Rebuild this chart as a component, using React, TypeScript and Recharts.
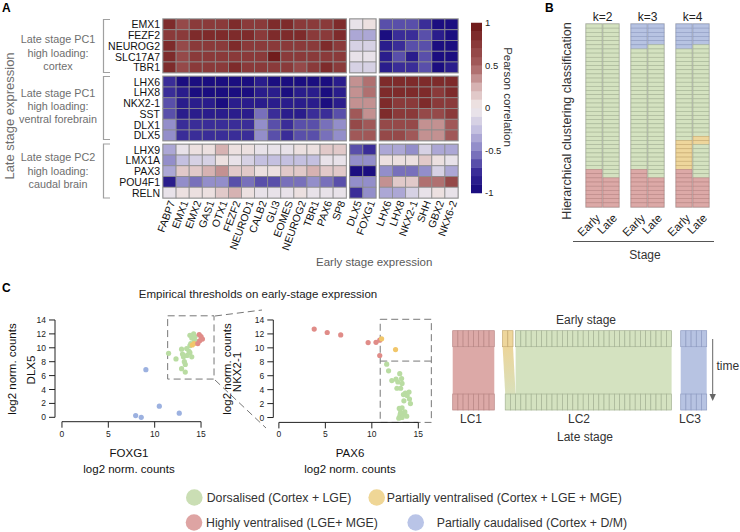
import React from "react";
import { ScatterChart, Scatter, XAxis, YAxis, ReferenceArea, ReferenceLine } from "recharts";

const FONT = "'Liberation Sans', Arial, Helvetica, sans-serif";

// ---------- A: heatmap ----------
const lateCortexGenes = ["EMX1", "FEZF2", "NEUROG2", "SLC17A7", "TBR1"];
const lateVentralGenes = ["LHX6", "LHX8", "NKX2-1", "SST", "DLX1", "DLX5"];
const lateCaudalGenes = ["LHX9", "LMX1A", "PAX3", "POU4F1", "RELN"];
const earlyCortexGenes = ["FABP7", "EMX1", "EMX2", "GAS1", "OTX1", "FEZF2", "NEUROD1", "CALB2", "GLI3", "EOMES", "NEUROG2", "TBR1", "PAX6", "SP8"];
const earlyTelGenes = ["DLX5", "FOXG1"];
const earlyVentralGenes = ["LHX6", "LHX8", "NKX2-1", "SHH", "GBX2", "NKX6-2"];

// rows: late genes, columns: early genes (14 + 2 + 6)
const cortexCorr = [
  [0.85, 0.6, 0.75, 0.7, 0.72, 0.8, 0.75, 0.72, 0.8, 0.8, 0.75, 0.72, 0.75, 0.8, -0.05, 0.05, -0.7, -0.68, -0.7, -0.72, -0.9, -0.9],
  [0.75, 0.7, 0.8, 0.8, 0.9, 0.88, 0.8, 0.78, 0.82, 0.8, 0.8, 0.75, 0.75, 0.8, -0.35, -0.35, -0.92, -0.78, -0.78, -0.7, -0.82, -0.9],
  [0.8, 0.62, 0.75, 0.72, 0.75, 0.8, 0.78, 0.75, 0.75, 0.78, 0.72, 0.7, 0.8, 0.78, -0.2, -0.2, -0.8, -0.72, -0.7, -0.7, -0.9, -0.9],
  [0.82, 0.65, 0.78, 0.7, 0.75, 0.78, 0.72, 0.7, 0.92, 0.78, 0.72, 0.7, 0.75, 0.78, -0.08, -0.1, -0.8, -0.7, -0.82, -0.7, -0.9, -0.9],
  [0.85, 0.6, 0.72, 0.7, 0.75, 0.8, 0.75, 0.75, 0.78, 0.72, 0.62, 0.72, 0.82, 0.72, -0.18, -0.18, -0.8, -0.72, -0.72, -0.7, -0.9, -0.85],
];
const ventralCorr = [
  [-0.72, -0.9, -0.95, -0.95, -0.97, -0.95, -0.95, -0.88, -0.92, -0.97, -0.97, -0.95, -0.95, -0.88, 0.4, 0.45, 0.9, 0.9, 0.9, 0.8, 0.82, 0.9],
  [-0.72, -0.88, -0.9, -0.9, -0.95, -0.9, -0.9, -0.82, -0.88, -0.9, -0.88, -0.88, -0.97, -0.88, 0.3, 0.42, 0.9, 0.8, 0.8, 0.8, 0.75, 0.8],
  [-0.65, -0.82, -0.88, -0.85, -0.9, -0.88, -0.85, -0.8, -0.85, -0.82, -0.85, -0.85, -0.97, -0.8, 0.3, 0.4, 0.8, 0.78, 0.78, 0.8, 0.72, 0.78],
  [-0.62, -0.8, -0.85, -0.82, -0.82, -0.85, -0.82, -0.6, -0.78, -0.8, -0.8, -0.78, -0.75, -0.7, 0.5, 0.4, 0.82, 0.72, 0.72, 0.62, 0.68, 0.72],
  [-0.42, -0.72, -0.75, -0.72, -0.78, -0.78, -0.78, -0.48, -0.62, -0.72, -0.7, -0.68, -0.6, -0.48, 0.6, 0.52, 0.62, 0.62, 0.6, 0.35, 0.38, 0.5],
  [-0.45, -0.72, -0.72, -0.72, -0.78, -0.78, -0.78, -0.5, -0.7, -0.72, -0.7, -0.7, -0.6, -0.5, 0.52, 0.5, 0.6, 0.6, 0.58, 0.38, 0.4, 0.5],
];
const caudalCorr = [
  [-0.3, -0.05, 0.05, 0.05, 0.25, 0.05, 0.05, -0.05, -0.05, -0.05, 0.05, 0.05, 0.15, 0.15, -0.7, -0.72, -0.3, -0.3, -0.42, -0.12, -0.3, -0.3],
  [-0.5, -0.25, -0.15, -0.15, 0.05, -0.05, -0.15, -0.25, -0.25, -0.25, -0.25, -0.25, -0.05, -0.05, -0.45, -0.45, 0.05, 0.05, 0.05, 0.15, 0.05, -0.05],
  [-0.3, 0.2, 0.2, 0.28, 0.3, 0.2, 0.2, 0.05, 0.05, 0.15, 0.15, 0.25, 0.15, 0.15, -0.92, -0.92, -0.5, -0.6, -0.6, -0.45, -0.15, -0.35],
  [-0.82, -0.5, -0.55, -0.5, -0.5, -0.7, -0.55, -0.68, -0.68, -0.55, -0.55, -0.5, -0.55, -0.65, -0.4, -0.48, 0.3, 0.15, 0.2, 0.45, 0.45, 0.65],
  [-0.05, 0.05, 0.05, 0.05, 0.15, 0.28, 0.05, -0.05, -0.05, -0.05, 0.05, -0.05, -0.05, -0.05, -0.72, -0.48, -0.3, -0.3, -0.15, -0.05, 0.05, -0.05],
];
const colorbarTicks = [-1, -0.5, 0, 0.5, 1];

// ---------- B: cluster membership (runs from top) ----------
const kLabels = ["k=2", "k=3", "k=4"];
const stageLabels = ["Early", "Late"];
const k2Early: [string, number][] = [["dors", 35], ["high", 9]];
const k2Late: [string, number][] = [["dors", 37], ["high", 7]];
const k3Early: [string, number][] = [["caud", 6], ["dors", 29], ["high", 9]];
const k3Late: [string, number][] = [["caud", 5], ["dors", 32], ["high", 7]];
const k4Early: [string, number][] = [["caud", 6], ["dors", 22], ["part", 7], ["high", 9]];
const k4Late: [string, number][] = [["caud", 5], ["dors", 22], ["part", 2], ["dors", 8], ["high", 7]];

// ---------- C: scatter (log2 norm. counts) ----------
const foxg1Dlx5Dorsalised: [number, number][] = [
  [11.5, 9.2], [12.3, 8.4], [12.9, 9.8], [13.0, 9.1], [13.1, 8.7], [13.2, 8.0], [13.3, 7.6], [12.9, 7.0], [13.3, 6.5],
  [13.8, 10.3], [13.8, 9.3], [14.0, 8.7], [13.5, 8.9], [13.7, 9.5], [13.45, 9.9], [13.8, 11.8], [14.0, 11.4], [14.2, 12.0],
  [14.35, 11.6], [14.3, 11.0], [14.5, 10.9], [13.9, 10.6],
];
const foxg1Dlx5Partial: [number, number][] = [[14.05, 10.4], [14.25, 10.6]];
const foxg1Dlx5High: [number, number][] = [[14.8, 11.9], [15.0, 11.6], [15.15, 11.25], [14.65, 10.6], [14.85, 11.0]];
const foxg1Dlx5Caudal: [number, number][] = [[9.05, 6.85], [10.5, 1.6], [7.95, 0.25], [8.55, 0.0], [12.65, 0.6]];

const pax6Nkx21High: [number, number][] = [[3.8, 12.7], [5.2, 12.2], [6.65, 11.85], [9.6, 10.75], [10.45, 10.8], [10.85, 11.1], [10.85, 8.9]];
const pax6Nkx21Partial: [number, number][] = [[11.05, 11.3], [12.55, 9.75]];
const pax6Nkx21Dorsalised: [number, number][] = [
  [11.6, 7.65], [11.8, 6.7], [12.15, 5.3], [12.6, 5.5], [13.0, 6.3], [13.2, 5.6], [12.8, 5.1], [12.7, 4.2], [13.1, 4.2],
  [13.25, 4.9], [13.6, 3.5], [13.4, 3.3], [14.0, 3.65], [13.8, 3.15], [13.45, 2.4], [14.05, 2.65], [14.15, 2.0], [12.95, 1.3],
  [13.25, 1.4], [13.05, 0.45], [13.4, 0.5], [13.75, 0.2], [13.0, 0.1], [13.25, 0.0], [12.9, -0.1], [13.55, 0.8], [13.1, 0.75],
];

// ---------- C: lineage diagram ----------
const lcLabels = ["LC1", "LC2", "LC3"];
const lcClasses = ["high", "dors", "caud"];
const lcLateCounts = [8, 32, 5];
const lc2EarlyRuns: [string, number][] = [["part", 2], ["dors", 30]];

const CLASS_FILL: Record<string, string> = { dors: "#d4e2c0", part: "#eed69c", high: "#dca9a7", caud: "#b7c3e2" };
const CLASS_LINE: Record<string, string> = { dors: "#a5b394", part: "#c6aa70", high: "#b98684", caud: "#8e9bc2" };
const DOT: Record<string, string> = { dors: "#b9dca2", part: "#f1c66a", high: "#e08c88", caud: "#9cb1e0" };

const expand = (runs: [string, number][]) => runs.flatMap(([c, n]) => Array(n).fill(c) as string[]);
const toPts = (arr: [number, number][]) => arr.map(([x, y]) => ({ x, y }));

// ---------- colour scale ----------
const stops: [number, number[]][] = [
  [-1, [19, 6, 122]], [-0.75, [58, 45, 152]], [-0.5, [135, 129, 196]], [-0.25, [196, 192, 224]],
  [0, [241, 235, 235]], [0.25, [214, 178, 178]], [0.5, [166, 95, 95]], [0.75, [138, 58, 58]], [1, [107, 20, 20]],
];
const interp = (v: number) => {
  for (let i = 0; i < stops.length - 1; i++) {
    const [a, ca] = stops[i];
    const [b, cb] = stops[i + 1];
    if (v <= b) {
      const t = (v - a) / (b - a);
      const c = ca.map((x, j) => Math.round(x + (cb[j] - x) * t));
      return `rgb(${c[0]},${c[1]},${c[2]})`;
    }
  }
  return "rgb(107,20,20)";
};
const corrColor = (v: number) => {
  const bin = Math.min(19, Math.max(0, Math.floor((v + 1) / 0.1)));
  return interp(-1 + (bin + 0.5) * 0.1);
};

// ---------- heatmap layout ----------
const GX = 0.27;
const GY = 0.33;
const colStarts = [0, 14 + GX, 16 + 2 * GX];
const rowStarts = [0, 5 + GY, 11 + 2 * GY];
const X_MAX = 22 + 2 * GX;
const Y_MAX = 16 + 2 * GY;
const HM_W = 295;
const HM_H = 179;
const cellW = HM_W / X_MAX;
const cellH = HM_H / Y_MAX;

const colBlocks = [earlyCortexGenes, earlyTelGenes, earlyVentralGenes];
const rowBlocks = [lateCortexGenes, lateVentralGenes, lateCaudalGenes];
const corrBlocks = [cortexCorr, ventralCorr, caudalCorr];

const colPos: number[] = [];
const colNames: string[] = [];
colBlocks.forEach((genes, b) => genes.forEach((g, i) => { colPos.push(colStarts[b] + i + 0.5); colNames.push(g); }));
const rowPos: number[] = [];
const rowNames: string[] = [];
rowBlocks.forEach((genes, b) => genes.forEach((g, i) => { rowPos.push(rowStarts[b] + i + 0.5); rowNames.push(g); }));

const heatCells = corrBlocks.flatMap((mat, rb) =>
  mat.flatMap((row, r) => row.map((v, c) => ({ x: colPos[c], y: rowStarts[rb] + r + 0.5, v })))
);
const nameAt = (pos: number[], names: string[], v: number) => {
  const i = pos.findIndex((p) => Math.abs(p - v) < 0.01);
  return i >= 0 ? names[i] : "";
};

const ColTick = (p: any) => {
  const x = p.x + 2;
  const y = p.y;
  return (
    <text x={x} y={y} transform={`rotate(-70, ${x}, ${y})`} textAnchor="end" dominantBaseline="central" fontSize={10.5} fill="#111">
      {nameAt(colPos, colNames, p.payload.value)}
    </text>
  );
};
const RowTick = (p: any) => (
  <text x={p.x} y={p.y} textAnchor="end" dominantBaseline="central" fontSize={10.5} fill="#111">
    {nameAt(rowPos, rowNames, p.payload.value)}
  </text>
);

const Heatmap = () => (
  <ScatterChart width={470} height={270} margin={{ top: 19, left: 103, right: 12, bottom: 12 }}>
    <XAxis type="number" dataKey="x" domain={[0, X_MAX]} ticks={colPos} interval={0} tick={ColTick} tickLine={false} axisLine={false} tickSize={0} tickMargin={3} height={60} />
    <YAxis type="number" dataKey="y" domain={[0, Y_MAX]} reversed ticks={rowPos} interval={0} tick={RowTick} tickLine={false} axisLine={false} tickSize={0} tickMargin={3} width={60} />
    <Scatter
      data={heatCells}
      isAnimationActive={false}
      shape={(p: any) => (
        <rect x={p.cx - cellW / 2} y={p.cy - cellH / 2} width={cellW} height={cellH} fill={corrColor(p.payload.v)} stroke="#8c8c8c" strokeWidth={0.8} />
      )}
    />
    {rowStarts.map((ry, rb) =>
      colStarts.map((cx, cb) => (
        <ReferenceArea
          key={`${rb}-${cb}`}
          x1={cx}
          x2={cx + colBlocks[cb].length}
          y1={ry}
          y2={ry + rowBlocks[rb].length}
          fill="none"
          stroke="#b4b4b4"
          strokeWidth={1.6}
          ifOverflow="visible"
        />
      ))
    )}
  </ScatterChart>
);

const colorbarBins = Array.from({ length: 20 }, (_, i) => ({ x: 0.5, y: -0.95 + i * 0.1 }));
const Colorbar = () => (
  <ScatterChart width={60} height={190} margin={{ top: 8, left: 11, right: 8, bottom: 12 }}>
    <XAxis type="number" dataKey="x" domain={[0, 1]} hide />
    <YAxis type="number" dataKey="y" orientation="right" domain={[-1, 1]} ticks={colorbarTicks} interval={0} tickLine={false} axisLine={false} tickSize={0} tickMargin={3} width={30} tick={{ fontSize: 9.5, fill: "#222" }} />
    <Scatter
      data={colorbarBins}
      isAnimationActive={false}
      shape={(p: any) => <rect x={p.cx - 5.5} y={p.cy - 4.5} width={11} height={9} fill={corrColor(p.payload.y)} />}
    />
  </ScatterChart>
);

// ---------- B ----------
const bColumns = [k2Early, k2Late, k3Early, k3Late, k4Early, k4Late];
const bCenters = [8, 25, 53, 70, 98, 115];
const B_ROWS = 44;
const bRowH = 183 / B_ROWS;
const bCells = bColumns.flatMap((runs, ci) => expand(runs).map((cls, r) => ({ x: bCenters[ci], y: r + 0.5, cls })));

const StageTick = (p: any) => {
  const i = bCenters.findIndex((c) => Math.abs(c - p.payload.value) < 0.01);
  const x = p.x + 4;
  const y = p.y;
  return (
    <text x={x} y={y} transform={`rotate(-45, ${x}, ${y})`} textAnchor="end" dominantBaseline="central" fontSize={11.5} fill="#222">
      {stageLabels[i % 2]}
    </text>
  );
};

const PanelB = () => (
  <ScatterChart width={170} height={250} margin={{ top: 14, left: 26, right: 21, bottom: 23 }}>
    <XAxis type="number" dataKey="x" domain={[0, 123]} ticks={bCenters} interval={0} tick={StageTick} tickLine={false} axisLine={false} tickSize={0} tickMargin={9} height={30} />
    <YAxis type="number" dataKey="y" domain={[0, B_ROWS]} reversed hide />
    <Scatter
      data={bCells}
      isAnimationActive={false}
      shape={(p: any) => (
        <rect x={p.cx - 8} y={p.cy - bRowH / 2} width={16} height={bRowH} fill={CLASS_FILL[p.payload.cls]} stroke={CLASS_LINE[p.payload.cls]} strokeWidth={0.6} />
      )}
    />
    {bCenters.map((c) => (
      <ReferenceArea key={c} x1={c - 8} x2={c + 8} y1={0} y2={B_ROWS} fill="none" stroke="#bdbdbd" strokeWidth={1.3} ifOverflow="visible" />
    ))}
  </ScatterChart>
);

// ---------- C scatters ----------
const dot = (color: string) => (p: any) => <circle cx={p.cx} cy={p.cy} r={2.6} fill={color} />;
const axisTick = { fontSize: 8.5, fill: "#222" };

const ScatterLeft = () => (
  <ScatterChart width={240} height={180} margin={{ top: 25.8, left: 10, right: 33.4, bottom: 18.3 }}>
    <XAxis type="number" dataKey="x" domain={[-0.75, 15.6]} ticks={[0, 5, 10, 15]} interval={0} axisLine={false} tickLine={{ stroke: "#222" }} tickSize={6} tickMargin={3} height={30} tick={axisTick} />
    <YAxis type="number" dataKey="y" domain={[-0.63, 14.6]} ticks={[0, 2, 4, 6, 8, 10, 12, 14]} interval={0} axisLine={false} tickLine={{ stroke: "#222" }} tickSize={6} tickMargin={3} width={45} tick={axisTick} />
    <ReferenceLine segment={[{ x: 0, y: -0.63 }, { x: 15, y: -0.63 }]} stroke="#222" ifOverflow="visible" />
    <ReferenceLine segment={[{ x: -0.75, y: 0 }, { x: -0.75, y: 14 }]} stroke="#222" ifOverflow="visible" />
    <ReferenceArea x1={11.4} x2={16.4} y1={5.5} y2={14.6} fill="none" stroke="#777" strokeDasharray="7 4" ifOverflow="visible" />
    <Scatter data={toPts(foxg1Dlx5Caudal)} isAnimationActive={false} shape={dot(DOT.caud)} />
    <Scatter data={toPts(foxg1Dlx5Dorsalised)} isAnimationActive={false} shape={dot(DOT.dors)} />
    <Scatter data={toPts(foxg1Dlx5Partial)} isAnimationActive={false} shape={dot(DOT.part)} />
    <Scatter data={toPts(foxg1Dlx5High)} isAnimationActive={false} shape={dot(DOT.high)} />
  </ScatterChart>
);

const ScatterMid = () => (
  <ScatterChart width={250} height={180} margin={{ top: 25.8, left: 5.3, right: 56.1, bottom: 17.6 }}>
    <XAxis type="number" dataKey="x" domain={[-0.6, 15.6]} ticks={[0, 5, 10, 15]} interval={0} axisLine={false} tickLine={{ stroke: "#222" }} tickSize={6} tickMargin={3} height={30} tick={axisTick} />
    <YAxis type="number" dataKey="y" domain={[-0.7, 14.6]} ticks={[0, 2, 4, 6, 8, 10, 12, 14]} interval={0} axisLine={false} tickLine={{ stroke: "#222" }} tickSize={6} tickMargin={3} width={38} tick={axisTick} />
    <ReferenceLine segment={[{ x: 0, y: -0.7 }, { x: 15, y: -0.7 }]} stroke="#222" ifOverflow="visible" />
    <ReferenceLine segment={[{ x: -0.6, y: 0 }, { x: -0.6, y: 14 }]} stroke="#222" ifOverflow="visible" />
    <ReferenceArea x1={10.9} x2={16.4} y1={-0.7} y2={14.1} fill="none" stroke="#777" strokeDasharray="7 4" ifOverflow="visible" />
    <ReferenceLine segment={[{ x: 10.9, y: 8.1 }, { x: 16.4, y: 8.1 }]} stroke="#777" strokeDasharray="7 4" ifOverflow="visible" />
    <Scatter data={toPts(pax6Nkx21Dorsalised)} isAnimationActive={false} shape={dot(DOT.dors)} />
    <Scatter data={toPts(pax6Nkx21High)} isAnimationActive={false} shape={dot(DOT.high)} />
    <Scatter data={toPts(pax6Nkx21Partial)} isAnimationActive={false} shape={dot(DOT.part)} />
  </ScatterChart>
);

// ---------- C lineage diagram ----------
const LC_STARTS = [0, 10.1, 43.85];
const LC_MAX = 48.85;
const LC_UNIT = 254 / LC_MAX;
const lcCells: { x: number; y: number; cls: string }[] = [];
lcLateCounts.forEach((n, g) => {
  for (let i = 0; i < n; i++) lcCells.push({ x: LC_STARTS[g] + i + 0.5, y: 0, cls: lcClasses[g] });
});
[0, 2].forEach((g) => {
  for (let i = 0; i < lcLateCounts[g]; i++) lcCells.push({ x: LC_STARTS[g] + i + 0.5, y: 1, cls: lcClasses[g] });
});
expand(lc2EarlyRuns).forEach((cls, i) => lcCells.push({ x: LC_STARTS[1] + i + 0.5 - (cls === "part" ? 0.5 : 0), y: 1, cls }));

const STRIPE = 0.126;
const YellowFlow = (p: any) => {
  const { x, y, width, height } = p;
  const s = width * 0.2;
  return (
    <polygon points={`${x},${y} ${x + width - s},${y} ${x + width},${y + height} ${x + s},${y + height}`} fill="url(#yellowFlow)" />
  );
};

const Lineage = () => (
  <ScatterChart width={300} height={120} margin={{ top: 20.7, left: 12.7, right: 33.3, bottom: 20 }}>
    <defs>
      <linearGradient id="yellowFlow" x1="0" y1="0" x2="0" y2="1">
        <stop offset="0%" stopColor="#ecd59a" />
        <stop offset="100%" stopColor="#d9e0bb" />
      </linearGradient>
    </defs>
    <XAxis type="number" dataKey="x" domain={[0, LC_MAX]} hide />
    <YAxis type="number" dataKey="y" domain={[-STRIPE, 1 + STRIPE]} hide />
    <ReferenceArea x1={0} x2={lcLateCounts[0]} y1={STRIPE} y2={1 - STRIPE} fill={CLASS_FILL.high} fillOpacity={1} stroke="none" />
    <ReferenceArea x1={LC_STARTS[1] + 2} x2={LC_STARTS[1] + lcLateCounts[1]} y1={STRIPE} y2={1 - STRIPE} fill={CLASS_FILL.dors} fillOpacity={1} stroke="none" />
    <ReferenceArea x1={LC_STARTS[1] - 0.5} x2={LC_STARTS[1] + 2} y1={STRIPE} y2={1 - STRIPE} shape={YellowFlow} />
    <ReferenceArea x1={LC_STARTS[2]} x2={LC_STARTS[2] + lcLateCounts[2]} y1={STRIPE} y2={1 - STRIPE} fill={CLASS_FILL.caud} fillOpacity={1} stroke="none" />
    <Scatter
      data={lcCells}
      isAnimationActive={false}
      shape={(p: any) => (
        <rect x={p.cx - LC_UNIT / 2} y={p.cy - 8} width={LC_UNIT} height={16} fill={CLASS_FILL[p.payload.cls]} stroke={CLASS_LINE[p.payload.cls]} strokeWidth={0.7} />
      )}
    />
  </ScatterChart>
);

const at = (left: number, top: number, child: React.ReactNode) => (
  <div style={{ position: "absolute", left, top }}>{child}</div>
);

const gray = "#6e6e6e";

export default function App() {
  return (
    <div style={{ position: "absolute", left: 0, top: 0, width: 740, height: 532, background: "#fff", fontFamily: FONT, overflow: "hidden" }}>
      {at(0, 0, <Heatmap />)}
      {at(460, 15, <Colorbar />)}
      {at(560, 10, <PanelB />)}
      {at(0, 290, <ScatterLeft />)}
      {at(230, 290, <ScatterMid />)}
      {at(440, 310, <Lineage />)}
      <svg width={740} height={532} style={{ position: "absolute", left: 0, top: 0, pointerEvents: "none" }} fontFamily={FONT}>
        <text x={2} y={12} fontSize={12} fontWeight="bold">A</text>
        <text x={545} y={12} fontSize={12} fontWeight="bold">B</text>
        <text x={2} y={292} fontSize={12} fontWeight="bold">C</text>

        <text transform="translate(14,116) rotate(-90)" textAnchor="middle" fontSize={13} fill={gray}>Late stage expression</text>
        {[
          [["Late stage PC1", "high loading:", "cortex"], [43, 56.5, 69.5]],
          [["Late stage PC1", "high loading:", "ventral forebrain"], [97, 110, 122.5]],
          [["Late stage PC2", "high loading:", "caudal brain"], [161, 174.5, 187.5]],
        ].map(([lines, ys]: any, g) =>
          lines.map((t: string, i: number) => (
            <text key={`${g}-${i}`} x={58} y={ys[i]} textAnchor="middle" fontSize={10.8} fill={gray}>{t}</text>
          ))
        )}
        {[[19.5, 72.5], [76.5, 139.5], [144, 198]].map(([a, b], i) => (
          <path key={i} d={`M110,${a} H103.5 V${b} H110`} fill="none" stroke="#a0a0a0" strokeWidth={1.2} />
        ))}
        <text x={316} y={266} fontSize={11.5} fill="#5a5a5a">Early stage expression</text>
        <text x={508} y={97} transform="rotate(90, 508, 97)" textAnchor="middle" dominantBaseline="central" fontSize={11.5} fill="#333">Pearson correlation</text>

        {kLabels.map((k, i) => (
          <text key={k} x={602.5 + 45 * i} y={21} textAnchor="middle" fontSize={12} fill="#222">{k}</text>
        ))}
        <text transform="translate(571,121) rotate(-90)" textAnchor="middle" fontSize={12.5} fill="#333">Hierarchical clustering classification</text>
        <line x1={573} x2={714} y1={241.5} y2={241.5} stroke="#555" strokeWidth={1} />
        <text x={645} y={259} textAnchor="middle" fontSize={12} fill="#333">Stage</text>

        <text x={258} y={298} textAnchor="middle" fontSize={11.5} fill="#222">Empirical thresholds on early-stage expression</text>
        <line x1={215} y1={316} x2={262} y2={310} stroke="#777" strokeDasharray="7 4" />
        <line x1={215} y1={380} x2={266} y2={428} stroke="#777" strokeDasharray="7 4" />
        <text x={129} y={457} textAnchor="middle" fontSize={11.5} fill="#111">FOXG1</text>
        <text x={129} y={473} textAnchor="middle" fontSize={11.5} fill="#111">log2 norm. counts</text>
        <text transform="translate(35,370) rotate(-90)" textAnchor="middle" fontSize={11.5} fill="#111">DLX5</text>
        <text transform="translate(16,369) rotate(-90)" textAnchor="middle" fontSize={11.5} fill="#111">log2 norm. counts</text>
        <text x={350} y={457} textAnchor="middle" fontSize={11.5} fill="#111">PAX6</text>
        <text x={350} y={473} textAnchor="middle" fontSize={11.5} fill="#111">log2 norm. counts</text>
        <text transform="translate(241,372) rotate(-90)" textAnchor="middle" fontSize={11.5} fill="#111">NKX2-1</text>
        <text transform="translate(231,369) rotate(-90)" textAnchor="middle" fontSize={11.5} fill="#111">log2 norm. counts</text>

        <text x={586} y={324} textAnchor="middle" fontSize={12} fill="#333">Early stage</text>
        {lcLabels.map((l, i) => (
          <text key={l} x={[471, 579, 690][i]} y={423} textAnchor="middle" fontSize={12} fill="#333">{l}</text>
        ))}
        <text x={585} y={441} textAnchor="middle" fontSize={12} fill="#333">Late stage</text>
        <line x1={712.7} x2={712.7} y1={339} y2={395} stroke="#666" strokeWidth={1} />
        <polygon points="709.5,394 715.9,394 712.7,401" fill="#666" />
        <text x={716.5} y={370} fontSize={12} fill="#333">time</text>

        <circle cx={194.3} cy={497.5} r={8.3} fill="#cadeb4" />
        <text x={206.7} y={502} fontSize={12.3} fill="#333">Dorsalised (Cortex + LGE)</text>
        <circle cx={376.7} cy={497.5} r={8.3} fill="#efd696" />
        <text x={386.7} y={502} fontSize={12.3} fill="#333">Partially ventralised (Cortex + LGE + MGE)</text>
        <circle cx={194} cy={522.5} r={8.3} fill="#dea4a3" />
        <text x={206} y={527} fontSize={12.3} fill="#333">Highly ventralised (LGE+ MGE)</text>
        <circle cx={415.7} cy={522.5} r={8.3} fill="#b9c4e7" />
        <text x={436.7} y={527} fontSize={12.3} fill="#333">Partially caudalised (Cortex + D/M)</text>
      </svg>
    </div>
  );
}
